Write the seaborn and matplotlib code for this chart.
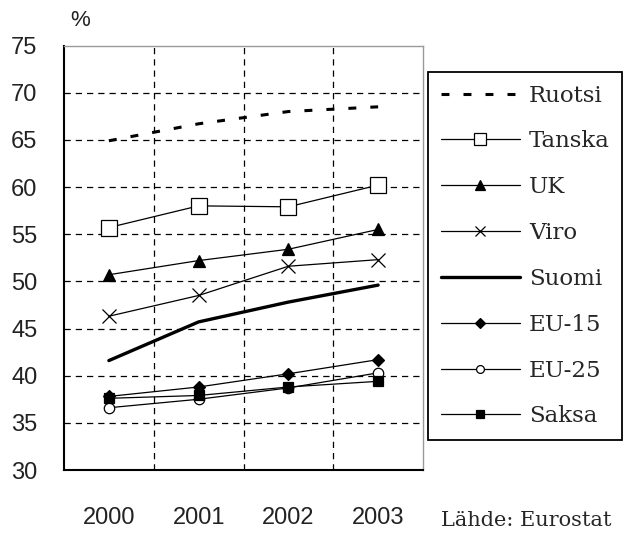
import matplotlib
matplotlib.use("Agg")
import matplotlib.pyplot as plt
import pandas as pd
import seaborn as sns

# arvot luettu kuvasta (55-64-vuotiaiden työllisyysaste, %)
vuodet = [2000, 2001, 2002, 2003]
vuosi_tekstit = ["2000", "2001", "2002", "2003"]
ruotsi = [64.9, 66.7, 68.0, 68.5]
tanska = [55.7, 58.0, 57.9, 60.2]
uk = [50.7, 52.2, 53.4, 55.5]
viro = [46.3, 48.5, 51.6, 52.3]
suomi = [41.6, 45.7, 47.8, 49.6]
eu15 = [37.8, 38.8, 40.2, 41.7]
eu25 = [36.6, 37.5, 38.7, 40.3]
saksa = [37.6, 37.9, 38.8, 39.4]
y_tikit = [30, 35, 40, 45, 50, 55, 60, 65, 70, 75]

sarjat = {
    "Ruotsi": ruotsi,
    "Tanska": tanska,
    "UK": uk,
    "Viro": viro,
    "Suomi": suomi,
    "EU-15": eu15,
    "EU-25": eu25,
    "Saksa": saksa,
}

tyylit = {
    "Ruotsi": dict(linewidth=2.2, linestyle=(0, (2.6, 4.6)), marker=None),
    "Tanska": dict(linewidth=0.9, marker="s", markersize=11, markerfacecolor="white"),
    "UK": dict(linewidth=0.9, marker="^", markersize=9, markerfacecolor="black"),
    "Viro": dict(linewidth=0.9, marker="x", markersize=10, markeredgewidth=0.9),
    "Suomi": dict(linewidth=2.4, marker=None),
    "EU-15": dict(linewidth=0.9, marker="D", markersize=6.5, markerfacecolor="black"),
    "EU-25": dict(linewidth=0.9, marker="o", markersize=7.5, markerfacecolor="white"),
    "Saksa": dict(linewidth=0.9, marker="s", markersize=7, markerfacecolor="black"),
}

df = pd.DataFrame({"vuosi": vuodet, **sarjat})
df_pitka = df.melt(id_vars="vuosi", var_name="maa", value_name="osuus")

sns.set_style("white")
plt.rcParams["font.family"] = ["DejaVu Serif"]

fig = plt.figure(figsize=(6.26, 5.35), dpi=100, facecolor="white")
ax = fig.add_axes([64 / 626, 1 - 470 / 535, 359 / 626, 424.5 / 535])

for maa in sarjat:
    osa = df_pitka[df_pitka["maa"] == maa]
    kw = dict(tyylit[maa])
    kw.setdefault("markeredgecolor", "black")
    kw.setdefault("markeredgewidth", 0.9)
    sns.lineplot(data=osa, x="vuosi", y="osuus", ax=ax, color="black",
                 errorbar=None, label=maa, zorder=3, **kw)

ax.set_xlim(1999.5, 2003.5)
ax.set_ylim(30, 75)
ax.set_xlabel("")
ax.set_ylabel("")

rajat = [1999.5, 2000.5, 2001.5, 2002.5, 2003.5]
ax.set_xticks(rajat)
ax.set_xticklabels([])
ax.set_xticks(vuodet, minor=True)
ax.set_xticklabels(vuosi_tekstit, minor=True)
ax.set_yticks(y_tikit)
ax.set_yticklabels([str(t) for t in y_tikit])

tikki_fontti = ["Liberation Sans", "DejaVu Sans"]
for t in ax.get_xticklabels(minor=True) + ax.get_yticklabels():
    t.set_family(tikki_fontti)
    t.set_fontsize(17)
    t.set_color("#222222")

ax.tick_params(axis="x", which="major", direction="inout", length=11, width=1.3, color="black")
ax.tick_params(axis="x", which="minor", length=0, pad=27)
ax.tick_params(axis="y", which="major", direction="out", length=7, width=1.3, color="black", pad=12)

ax.set_axisbelow(True)
ax.grid(True, which="major", color="black", linewidth=0.9, linestyle=(0, (5, 4)))
# reunaviivojen kohdalla ei ruudukkoa
for viivat in (ax.xaxis.get_gridlines(), ax.yaxis.get_gridlines()):
    viivat[0].set_visible(False)
    viivat[-1].set_visible(False)

for puoli in ["left", "bottom"]:
    ax.spines[puoli].set_color("black")
    ax.spines[puoli].set_linewidth(1.5)
for puoli in ["top", "right"]:
    ax.spines[puoli].set_color("#9a9a9a")
    ax.spines[puoli].set_linewidth(1.0)

leg = ax.legend(loc="upper left", bbox_to_anchor=(428 / 626, 1 - 72 / 535),
                bbox_transform=fig.transFigure, frameon=True, fancybox=False,
                edgecolor="black", framealpha=1, handlelength=3.45, handletextpad=0.4,
                borderpad=0.55, labelspacing=1.04, borderaxespad=0, markerscale=0.75,
                prop={"family": "DejaVu Serif", "size": 16.5})
leg.get_frame().set_linewidth(1.3)

fig.text(80 / 626, 1 - 20 / 535, "%", ha="center", va="center",
         family=tikki_fontti, fontsize=16, color="#222222")
fig.text(441 / 626, 1 - 520 / 535, "Lähde: Eurostat", ha="left", va="center",
         family="DejaVu Serif", fontsize=15)

plt.savefig("out.png", dpi=100, facecolor="white")
